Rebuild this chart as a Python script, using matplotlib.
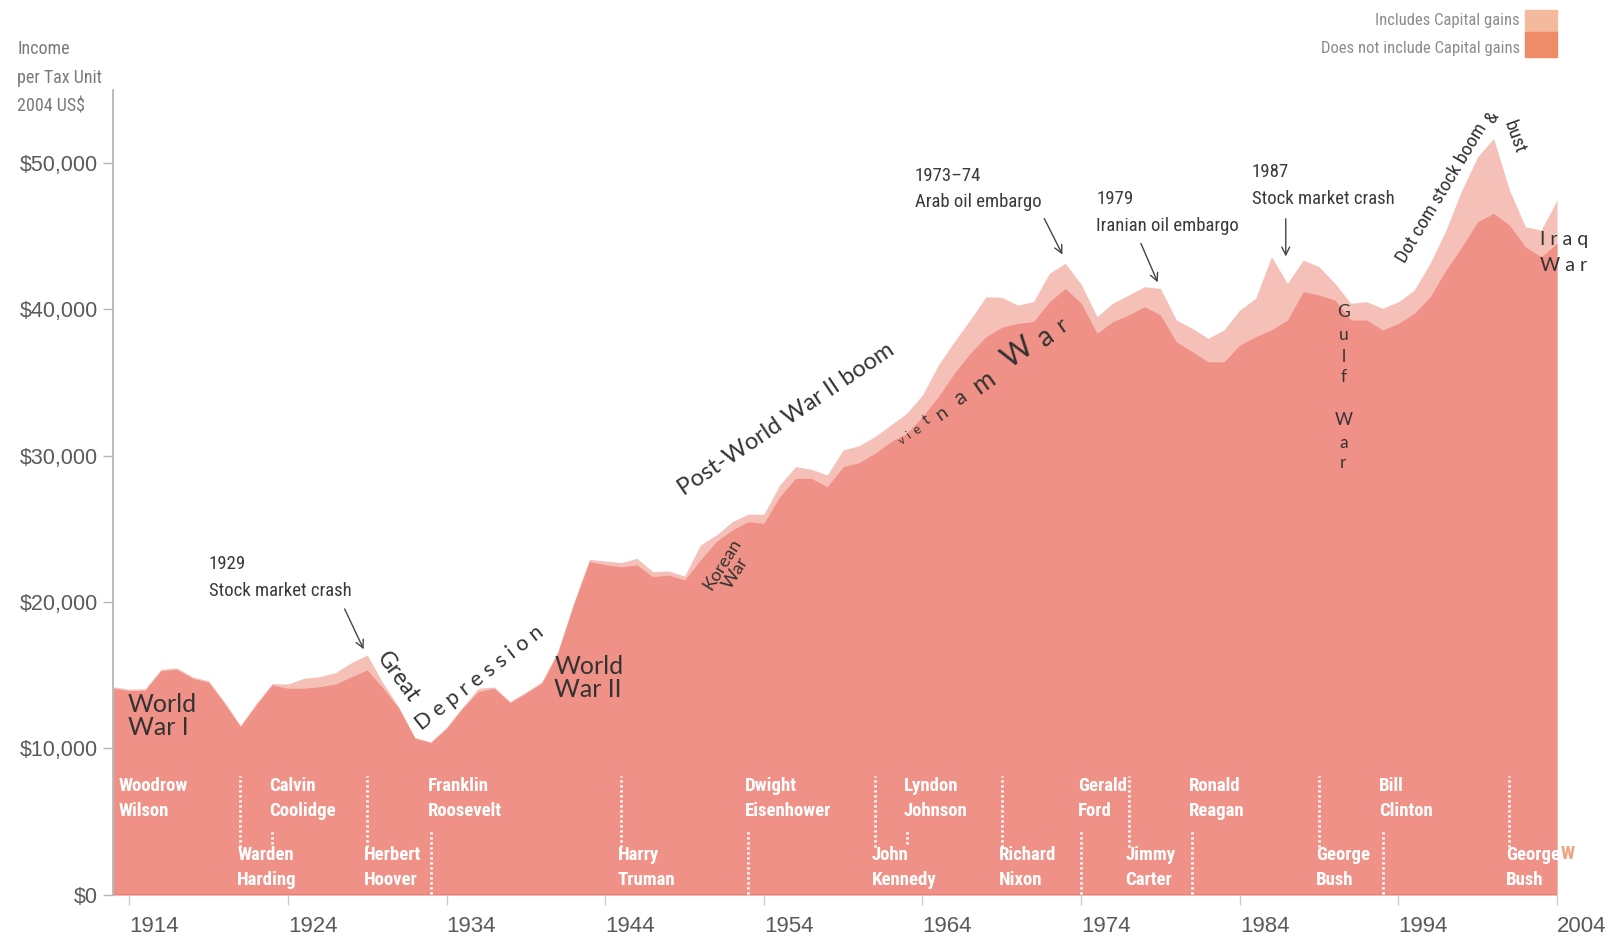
import matplotlib
matplotlib.use("Agg")
import matplotlib.pyplot as plt
from matplotlib import font_manager

# income per tax unit, 2004 US$
years = list(range(1913, 2005))

incl_gains = [
    14210, 14050, 14080, 15410, 15500, 14890, 14620, 13180, 11590, 13070,  # 1913-1922
    14430, 14400, 14790, 14900, 15180, 15860, 16380, 14450, 12800, 10750,  # 1923-1932
    10450, 11450, 12800, 14110, 14200, 13200, 13850, 14550, 16600, 19900,  # 1933-1942
    22910, 22800, 22690, 22980, 22070, 22120, 21770, 23890, 24570, 25480,  # 1943-1952
    26000, 25990, 27990, 29240, 29060, 28670, 30380, 30670, 31290, 32080,  # 1953-1962
    32880, 34130, 36180, 37770, 39250, 40840, 40800, 40270, 40500, 42440,  # 1963-1972
    43120, 41700, 39480, 40400, 40960, 41520, 41410, 39250, 38680, 38000,  # 1973-1982
    38570, 39930, 40730, 43570, 41750, 43340, 42890, 41750, 40390, 40500,  # 1983-1992
    40050, 40500, 41300, 43120, 45390, 48120, 50400, 51650, 48120, 45620,  # 1993-2002
    45390, 47440,                                                          # 2003-2004
]

excl_gains = [
    14110, 13950, 13980, 15310, 15400, 14790, 14520, 13080, 11490, 12970,
    14330, 14110, 14110, 14220, 14400, 14900, 15360, 14110, 12740, 10700,
    10400, 11380, 12740, 13880, 14110, 13130, 13770, 14450, 16500, 19800,
    22750, 22550, 22400, 22530, 21730, 21840, 21500, 22870, 24120, 24910,
    25480, 25370, 27190, 28440, 28440, 27870, 29240, 29510, 30150, 30940,
    31510, 32650, 34020, 35610, 36970, 38110, 38750, 39020, 39140, 40500,
    41410, 40400, 38340, 39140, 39590, 40160, 39590, 37770, 37090, 36400,
    36400, 37540, 38110, 38570, 39250, 41180, 40960, 40610, 39250, 39250,
    38570, 39020, 39700, 40840, 42660, 44250, 45960, 46530, 45730, 44250,
    43570, 44480,
]

y_ticks = [0, 10000, 20000, 30000, 40000, 50000]
y_tick_labels = ["$0", "$10,000", "$20,000", "$30,000", "$40,000", "$50,000"]
x_ticks = [1914, 1924, 1934, 1944, 1954, 1964, 1974, 1984, 1994, 2004]

# presidents: (first line, second line, start year, row)
presidents = [
    ("Woodrow", "Wilson", 1913.5, "top"),
    ("Warden", "Harding", 1921, "low"),
    ("Calvin", "Coolidge", 1923, "top"),
    ("Herbert", "Hoover", 1929, "low"),
    ("Franklin", "Roosevelt", 1933, "top"),
    ("Harry", "Truman", 1945, "low"),
    ("Dwight", "Eisenhower", 1953, "top"),
    ("John", "Kennedy", 1961, "low"),
    ("Lyndon", "Johnson", 1963, "top"),
    ("Richard", "Nixon", 1969, "low"),
    ("Gerald", "Ford", 1974, "top"),
    ("Jimmy", "Carter", 1977, "low"),
    ("Ronald", "Reagan", 1981, "top"),
    ("George", "Bush", 1989, "low"),
    ("Bill", "Clinton", 1993, "top"),
    ("George", "Bush", 2001, "low"),
]
# handover years and where the dotted divider sits
handovers = [
    (1921, "top"), (1923, "short"), (1929, "top"), (1933, "low"),
    (1945, "top"), (1953, "low"), (1961, "top"), (1963, "short"),
    (1969, "top"), (1974, "low"), (1977, "top"), (1981, "low"),
    (1989, "top"), (1993, "low"), (2001, "top"),
]


# look for a condensed sans; fall back to DejaVu at a smaller size
def find_narrow():
    prefer = ["Liberation Sans Narrow", "Roboto Condensed", "Open Sans Condensed",
              "Noto Sans", "DejaVu Sans", "Open Sans", "Roboto"]
    found = {}
    for f in font_manager.fontManager.ttflist:
        st = str(f.stretch).lower()
        nm = f.name
        narrow = ("narrow" in nm.lower() or "condensed" in nm.lower()
                  or "condensed" in st or (st.isdigit() and int(st) < 500))
        if narrow and f.style == "normal":
            found.setdefault(nm, f.stretch)
    for p in prefer:
        if p in found:
            return p, found[p], 1.0
    return "DejaVu Sans", "normal", 0.78


NARROW_NAME, NARROW_STRETCH, NS = find_narrow()
NARROW = dict(family=[NARROW_NAME, "DejaVu Sans"], fontstretch=NARROW_STRETCH)

LIGHT = "#F5C0B8"
DARK = "#EF9186"
GOTHIC = ["Lato", "DejaVu Sans"]

fig = plt.figure(figsize=(16.11, 9.35), dpi=100)
ax = fig.add_axes([0.0704, 0.0428, 0.8961, 0.8609])

ax.fill_between(years, 0, incl_gains, color=LIGHT, lw=0)
ax.fill_between(years, 0, excl_gains, color=DARK, lw=0)
ax.plot([1913, 2004], [0, 0], color="#E88078", lw=1.5, solid_capstyle="butt")

ax.set_xlim(1913, 2004)
ax.set_ylim(0, 54950)

for s in ["top", "right", "bottom"]:
    ax.spines[s].set_visible(False)
ax.spines["left"].set_color("#b5b5b5")
ax.spines["left"].set_linewidth(1.3)

ax.set_yticks(y_ticks)
ax.set_yticklabels(y_tick_labels, family=["Liberation Sans", "DejaVu Sans"],
                   fontsize=15.5, color="#5a5a5a")
ax.set_xticks(x_ticks)
ax.set_xticklabels([str(x) for x in x_ticks], family=["Liberation Sans", "DejaVu Sans"],
                   fontsize=16, color="#5a5a5a", ha="left")
ax.tick_params(axis="y", length=7, width=1, color="#b5b5b5", pad=4)
ax.tick_params(axis="x", length=7, width=1, color="#cccccc", pad=8)

# axis title
fig.text(0.0106, 0.957, "Income\nper Tax Unit\n2004 US$", fontsize=13 * NS,
         color="#7a7a7a", va="top", ha="left", linespacing=1.75 / NS, **NARROW)

# legend swatches
fig.patches.append(plt.Rectangle((1525 / 1611, 1 - 32 / 935), 32 / 1611, 22 / 935,
                                 transform=fig.transFigure, color="#F3BA9D"))
fig.patches.append(plt.Rectangle((1525 / 1611, 1 - 57 / 935), 32 / 1611, 25 / 935,
                                 transform=fig.transFigure, color="#EE8C69"))
fig.text(1520 / 1611, 1 - 20 / 935, "Includes Capital gains", fontsize=12 * NS,
         color="#8c8c8c", ha="right", va="center", **NARROW)
fig.text(1520 / 1611, 1 - 48 / 935, "Does not include Capital gains", fontsize=12 * NS,
         color="#8c8c8c", ha="right", va="center", **NARROW)

# presidents
for first, second, yr, row in presidents:
    yc = 6600 if row == "top" else 1900
    ax.text(yr - 0.2, yc, first + "\n" + second, fontweight="bold",
            fontsize=13.5 * NS, color="white", ha="left", va="center",
            linespacing=1.5 / NS, **NARROW)
ax.text(2004.2, 2780, "W", fontweight="bold", fontsize=13.5 * NS,
        color="#F4A27E", ha="left", va="center", clip_on=False, **NARROW)

for yr, kind in handovers:
    if kind == "top":
        y0, y1 = 3300, 8150
    elif kind == "low":
        y0, y1 = 80, 4400
    else:
        y0, y1 = 3450, 4400
    ax.plot([yr, yr], [y0, y1], color="white", lw=2, linestyle=(0, (0.8, 1.0)))

# event annotations
note = dict(fontsize=13.5 * NS, color="#3a3a3a", ha="left", va="top",
            linespacing=1.6 / NS, **NARROW)
ax.text(1919.0, 23200, "1929\nStock market crash", **note)
ax.text(1963.5, 49700, "1973–74\nArab oil embargo", **note)
ax.text(1974.95, 48100, "1979\nIranian oil embargo", **note)
ax.text(1984.75, 49950, "1987\nStock market crash", **note)
arrow = dict(arrowstyle="->", color="#444444", lw=1.0, mutation_scale=14)
ax.annotate("", xy=(1928.85, 16600), xytext=(1927.5, 19700), arrowprops=arrow)
ax.annotate("", xy=(1972.9, 43550), xytext=(1971.6, 46350), arrowprops=arrow)
ax.annotate("", xy=(1978.9, 41650), xytext=(1977.7, 44650), arrowprops=arrow)
ax.annotate("", xy=(1986.9, 43400), xytext=(1986.9, 46350), arrowprops=arrow)

# era labels
era = dict(family=GOTHIC, color="#333333")
ax.text(1913.9, 13800, "World\nWar I", fontsize=18, ha="left", va="top",
        linespacing=1.0, **era)
ax.text(1940.8, 16400, "World\nWar II", fontsize=18, ha="left", va="top",
        linespacing=1.0, **era)
ax.text(1930.95, 14900, "Great", fontsize=16.5, rotation=-54, ha="center",
        va="center", rotation_mode="anchor", **era)
ax.text(1936.1, 14850, "D e p r e s s i o n", fontsize=15.5, rotation=38,
        ha="center", va="center", rotation_mode="anchor", **era)
ax.text(1955.4, 32500, "Post-World War II boom", fontsize=17, rotation=34,
        ha="center", va="center", rotation_mode="anchor", **era)
ax.text(1951.8, 22300, "Korean\nWar", fontsize=13, rotation=58, ha="center",
        va="center", rotation_mode="anchor", linespacing=0.95, **era)

vietnam = [("v", 1962.70, 31060, 8), ("i", 1963.12, 31400, 8.5),
           ("e", 1963.65, 31740, 9.5), ("t", 1964.28, 32420, 11),
           ("n", 1965.22, 32900, 14), ("a", 1966.38, 33920, 16),
           ("m", 1967.83, 34950, 19), ("W", 1969.95, 37000, 22),
           ("a", 1971.75, 38090, 20), ("r", 1972.80, 38910, 17)]
for ch, xv, yv, fs in vietnam:
    ax.text(xv, yv, ch, fontsize=fs, rotation=35, ha="center", va="center",
            rotation_mode="anchor", **era)

gulf = [("G", 39820), ("u", 38230), ("l", 36740), ("f", 35380),
        ("W", 32420), ("a", 30850), ("r", 29490)]
for ch, yv in gulf:
    ax.text(1990.53, yv, ch, fontsize=12.5, ha="center", va="center", **era)

ax.text(2002.9, 44750, "I r a q", fontsize=14, ha="left", va="center",
        clip_on=False, **era)
ax.text(2002.9, 42950, "W a r", fontsize=14, ha="left", va="center",
        clip_on=False, **era)

dot = dict(fontsize=14 * NS, color="#333333", ha="center", va="center",
           rotation_mode="anchor", **NARROW)
ax.text(1996.75, 47900, "Dot com stock boom", rotation=59, **dot)
ax.text(1999.9, 53100, "&", rotation=60, **dot)
ax.text(2001.3, 51700, "bust", rotation=-70, **dot)

fig.savefig("out.png", dpi=100)
